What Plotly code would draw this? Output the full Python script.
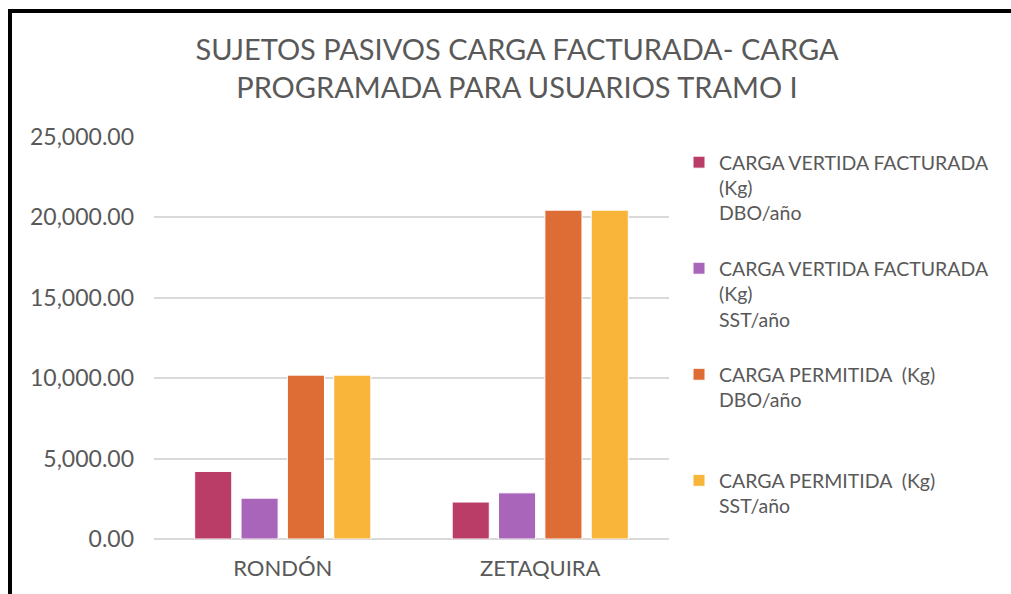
import plotly.graph_objects as go

categories = ["RONDÓN", "ZETAQUIRA"]
series_names = [
    "CARGA VERTIDA FACTURADA<br>(Kg)<br>DBO/año",
    "CARGA VERTIDA FACTURADA<br>(Kg)<br>SST/año",
    "CARGA PERMITIDA  (Kg)<br>DBO/año<br> ",
    "CARGA PERMITIDA  (Kg)<br>SST/año<br> ",
]
dbo_facturada = [4200, 2300]
sst_facturada = [2540, 2870]
dbo_permitida = [10190, 20450]
sst_permitida = [10190, 20450]
colors = ["#BA3D67", "#A965BA", "#DE6C35", "#F8B53A"]
y_ticks = [0, 5000, 10000, 15000, 20000, 25000]

W, H = 1011, 594
L, R, T, B = 154, 669, 137, 539
FONT = "Lato"
GRAY = "#595959"

fig = go.Figure()
for name, vals, col in zip(series_names,
                           [dbo_facturada, sst_facturada, dbo_permitida, sst_permitida],
                           colors):
    fig.add_trace(go.Bar(x=categories, y=vals, name=name, legendgroup=name,
                         marker=dict(color=col, line=dict(color="white", width=1))))

def px_to_paper_x(px):
    return (px - L) / (R - L)

def py_to_paper_y(py):
    return (B - py) / (B - T)

fig.update_layout(
    width=W, height=H,
    margin=dict(l=L, r=W - R, t=T, b=H - B, pad=0, autoexpand=False),
    paper_bgcolor="white", plot_bgcolor="white",
    font=dict(family=FONT, color=GRAY),
    title=dict(text="SUJETOS PASIVOS CARGA FACTURADA- CARGA<br>PROGRAMADA PARA USUARIOS TRAMO I",
               x=517 / W, xanchor="center", xref="container",
               y=1 - 60 / H, yanchor="top", yref="container",
               font=dict(size=29, color=GRAY, family=FONT)),
    barmode="group", bargap=0.28, bargroupgap=0.2,
    showlegend=True,
    legend=dict(x=679 / W, xref="container", xanchor="left",
                y=1 - 143 / H, yref="container", yanchor="top",
                valign="top", font=dict(size=19.5, color=GRAY, family=FONT),
                tracegroupgap=27, itemwidth=30, maxheight=500,
                bgcolor="rgba(0,0,0,0)"),
    xaxis=dict(showgrid=False, showline=False, ticks="", ticklabelstandoff=14,
               tickfont=dict(size=22, color=GRAY, family=FONT)),
    yaxis=dict(range=[0, 25000], tickvals=y_ticks, tickformat=",.2f",
               showgrid=True, gridcolor="#D9D9D9", gridwidth=1.5,
               zeroline=True, zerolinecolor="#D9D9D9", zerolinewidth=1.5,
               showline=False, ticks="", ticklabelstandoff=19,
               tickfont=dict(size=23, color=GRAY, family=FONT)),
    shapes=[
        dict(type="line", xref="paper", yref="paper",
             x0=px_to_paper_x(8), x1=px_to_paper_x(W + 5),
             y0=py_to_paper_y(11), y1=py_to_paper_y(11),
             line=dict(color="black", width=4)),
        dict(type="line", xref="paper", yref="paper",
             x0=px_to_paper_x(10), x1=px_to_paper_x(10),
             y0=py_to_paper_y(9), y1=py_to_paper_y(H + 5),
             line=dict(color="black", width=4)),
    ],
)

fig.write_html("out.html", config={"displayModeBar": False},
               post_script="document.body.style.margin='0';document.body.style.overflow='hidden';")
